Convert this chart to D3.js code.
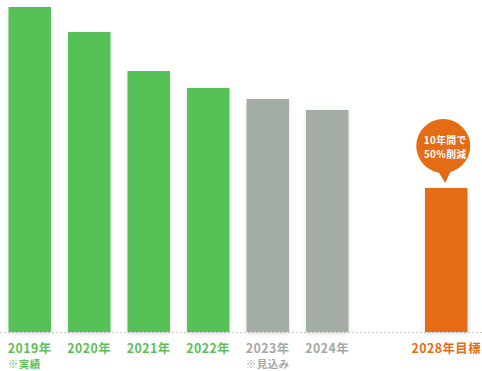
<!DOCTYPE html>
<html>
<head>
<meta charset="utf-8">
<script src="https://cdn.jsdelivr.net/npm/d3@7"></script>
<style>
  body { margin: 0; background: #fff; }
  svg { display: block; font-family: "Noto Sans CJK JP", "Noto Sans", sans-serif; }
</style>
</head>
<body>
<div id="chart"></div>
<script>
// data (relative emissions)
const years = ['2019', '2020', '2021', '2022', '2023', '2024', 'gap', '2028'];
const values = [100, 92.3, 80.3, 75.1, 71.7, 68.3, null, 44.3];
const kinds = ['actual', 'actual', 'actual', 'actual', 'forecast', 'forecast', null, 'target'];
const labels = ['2019年', '2020年', '2021年', '2022年', '2023年', '2024年', '', '2028年目標'];
const notes = ['※実績', '', '', '', '※見込み', '', '', ''];
const bubbleLines = ['10年間で', '50%削減'];

const colors = { actual: '#56c156', forecast: '#a4ada4', target: '#e46c14' };
const textColors = { actual: '#5cbf58', forecast: '#a3aaa3', target: '#e46c14' };

const width = 482;
const height = 371;
const baseline = 332;

const svg = d3.select('#chart')
  .append('svg')
  .attr('width', width)
  .attr('height', height);

const defs = svg.append('defs');
const shadow = defs.append('filter')
  .attr('id', 'shadow')
  .attr('x', '-20%').attr('y', '-5%')
  .attr('width', '140%').attr('height', '115%');
shadow.append('feDropShadow')
  .attr('dx', 0).attr('dy', 2)
  .attr('stdDeviation', 2)
  .attr('flood-color', '#000')
  .attr('flood-opacity', 0.12);

// scales
const xScale = d3.scaleBand()
  .domain(years)
  .range([8.5, 467.5])
  .paddingInner(0.2857)
  .paddingOuter(0);

const yScale = d3.scaleLinear().domain([0, 100]).range([baseline, 7]);

// dotted baseline
svg.append('line')
  .attr('x1', 0).attr('x2', width)
  .attr('y1', baseline + 0.5).attr('y2', baseline + 0.5)
  .attr('stroke', '#c8c8c8')
  .attr('stroke-width', 1)
  .attr('stroke-dasharray', '2,2');

const rows = years.map((y, i) => ({
  year: y, value: values[i], kind: kinds[i], label: labels[i], note: notes[i]
})).filter(d => d.kind);

svg.append('g')
  .selectAll('rect')
  .data(rows)
  .join('rect')
  .attr('x', d => xScale(d.year))
  .attr('y', d => yScale(d.value))
  .attr('width', xScale.bandwidth())
  .attr('height', d => baseline - yScale(d.value))
  .attr('fill', d => colors[d.kind])
  .attr('filter', 'url(#shadow)');

// year labels, with the note left-aligned under the year
const lab = svg.append('g')
  .selectAll('g')
  .data(rows)
  .join('g')
  .attr('transform', d => 'translate(' + (xScale(d.year) + xScale.bandwidth() / 2) + ',0)')
  .attr('fill', d => textColors[d.kind])
  .style('font-weight', 'bold');

lab.append('text')
  .attr('class', 'year')
  .attr('y', 352.5)
  .attr('text-anchor', 'middle')
  .style('font-size', '12.3px')
  .style('letter-spacing', '0.5px')
  .text(d => d.label);

lab.each(function (d) {
  if (!d.note) return;
  const g = d3.select(this);
  const w = g.select('text.year').node().getComputedTextLength();
  g.append('text')
    .attr('x', -w / 2)
    .attr('y', 367.8)
    .style('font-size', '10.5px')
    .style('letter-spacing', '0.4px')
    .text(d.note);
});

// bubble above target bar
const target = rows.find(d => d.kind === 'target');
const cx = xScale(target.year) + xScale.bandwidth() / 2 - 3;
const cy = 146;
const r = 27;
const tipY = yScale(target.value) - 5;
const bubble = svg.append('g');
bubble.append('path')
  .attr('d', 'M' + (cx - 6) + ',' + (cy + r - 3) + ' L' + (cx + 2) + ',' + tipY + ' L' + (cx + 8) + ',' + (cy + r - 3) + 'Z')
  .attr('fill', colors.target);
bubble.append('circle')
  .attr('cx', cx).attr('cy', cy).attr('r', r)
  .attr('fill', colors.target);
bubble.selectAll('text')
  .data(bubbleLines)
  .join('text')
  .attr('x', cx + 2)
  .attr('y', (d, i) => 144 + i * 14.3)
  .attr('text-anchor', 'middle')
  .attr('fill', '#fff')
  .style('font-size', '9.8px')
  .style('font-weight', 'bold')
  .style('letter-spacing', '0.4px')
  .text(d => d);
</script>
</body>
</html>
